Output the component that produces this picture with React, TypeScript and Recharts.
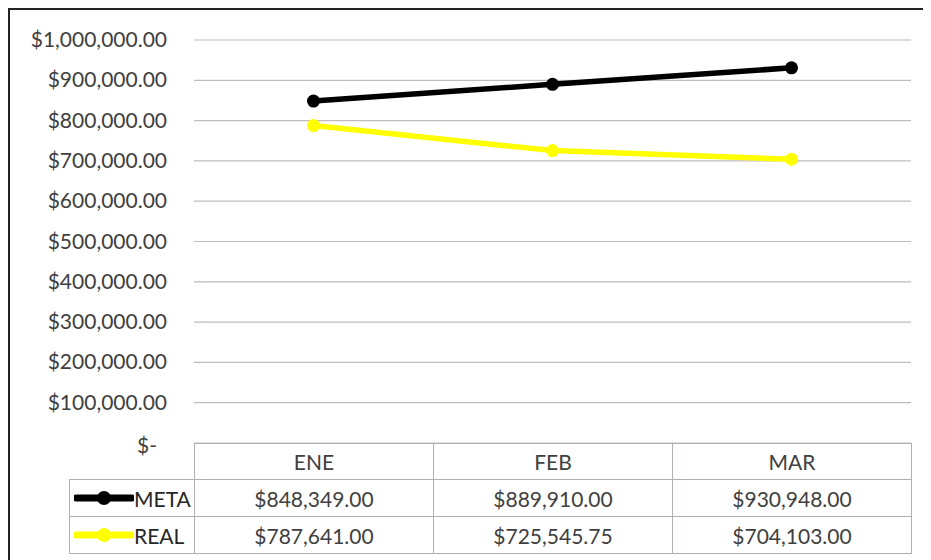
import { CartesianGrid, Line, LineChart, XAxis, YAxis } from "recharts";

const months = ["ENE", "FEB", "MAR"];
const metaValues = [848349, 889910, 930948];
const realValues = [787641, 725545.75, 704103];
const yTicks = [0, 100000, 200000, 300000, 400000, 500000, 600000, 700000, 800000, 900000, 1000000];

const series = [
  { key: "meta", name: "META", color: "#000000", values: metaValues },
  { key: "real", name: "REAL", color: "#FFFF00", values: realValues }
];

const data = months.map((m, i) => ({ month: m, meta: metaValues[i], real: realValues[i] }));

const FONT = "Lato, 'Open Sans', sans-serif";
const TEXT = "#404040";
const GRID = "#c2bbbb";
const TABLE_LINE = "#b5afaf";

const money = (v: number) =>
  v === 0 ? "$-" : "$" + v.toLocaleString("en-US", { minimumFractionDigits: 2, maximumFractionDigits: 2 });

function YTick({ y, payload }: any) {
  const zero = payload.value === 0;
  return (
    <text x={zero ? 147 : 157} y={y} dy={zero ? 10 : 7} textAnchor="end" fill={TEXT} fontSize={21} fontFamily={FONT}>
      {money(payload.value)}
    </text>
  );
}

const cell = {
  border: `1px solid ${TABLE_LINE}`,
  padding: 0,
  textAlign: "center" as const,
  fontFamily: FONT,
  fontSize: 21,
  color: TEXT,
  height: 36
};

function DataTable() {
  return (
    <table style={{ position: "absolute", left: 59, top: 433, borderCollapse: "collapse", tableLayout: "fixed", width: 843 }}>
      <colgroup>
        <col style={{ width: 125 }} />
        {months.map((m) => (
          <col key={m} style={{ width: 239 }} />
        ))}
      </colgroup>
      <tbody>
        <tr>
          <td style={{ padding: 0, height: 35, border: "none" }} />
          {months.map((m) => (
            <td key={m} style={{ ...cell, height: 35 }}>
              {m}
            </td>
          ))}
        </tr>
        {series.map((s) => (
          <tr key={s.key}>
            <td style={{ ...cell, textAlign: "left" }}>
              <div style={{ display: "flex", alignItems: "center" }}>
                <svg width={60} height={16} style={{ marginLeft: 4 }}>
                  <line x1={2} y1={8} x2={58} y2={8} stroke={s.color} strokeWidth={7} strokeLinecap="round" />
                  <circle cx={30} cy={8} r={7} fill={s.color} />
                </svg>
                <span style={{ color: "#262626" }}>{s.name}</span>
              </div>
            </td>
            {s.values.map((v, i) => (
              <td key={i} style={cell}>
                {money(v)}
              </td>
            ))}
          </tr>
        ))}
      </tbody>
    </table>
  );
}

export default function App() {
  return (
    <div style={{ position: "relative", width: 930, height: 560, border: "2px solid #222", background: "#fff" }}>
      <LineChart width={921} height={550} data={data} margin={{ top: 30, right: 20, bottom: 117, left: 0 }}>
        <CartesianGrid horizontal vertical={false} stroke={GRID} strokeWidth={1.2} />
        <XAxis dataKey="month" hide padding={{ left: 119.5, right: 119.5 }} />
        <YAxis
          width={184}
          domain={[0, 1000000]}
          ticks={yTicks}
          interval={0}
          axisLine={false}
          tickLine={false}
          tick={<YTick />}
        />
        {series.map((s) => (
          <Line
            key={s.key}
            dataKey={s.key}
            name={s.name}
            stroke={s.color}
            strokeWidth={5.5}
            dot={{ r: 6.5, fill: s.color, stroke: s.color, strokeWidth: 0 }}
            activeDot={false}
            isAnimationActive={false}
          />
        ))}
      </LineChart>
      <DataTable />
    </div>
  );
}
